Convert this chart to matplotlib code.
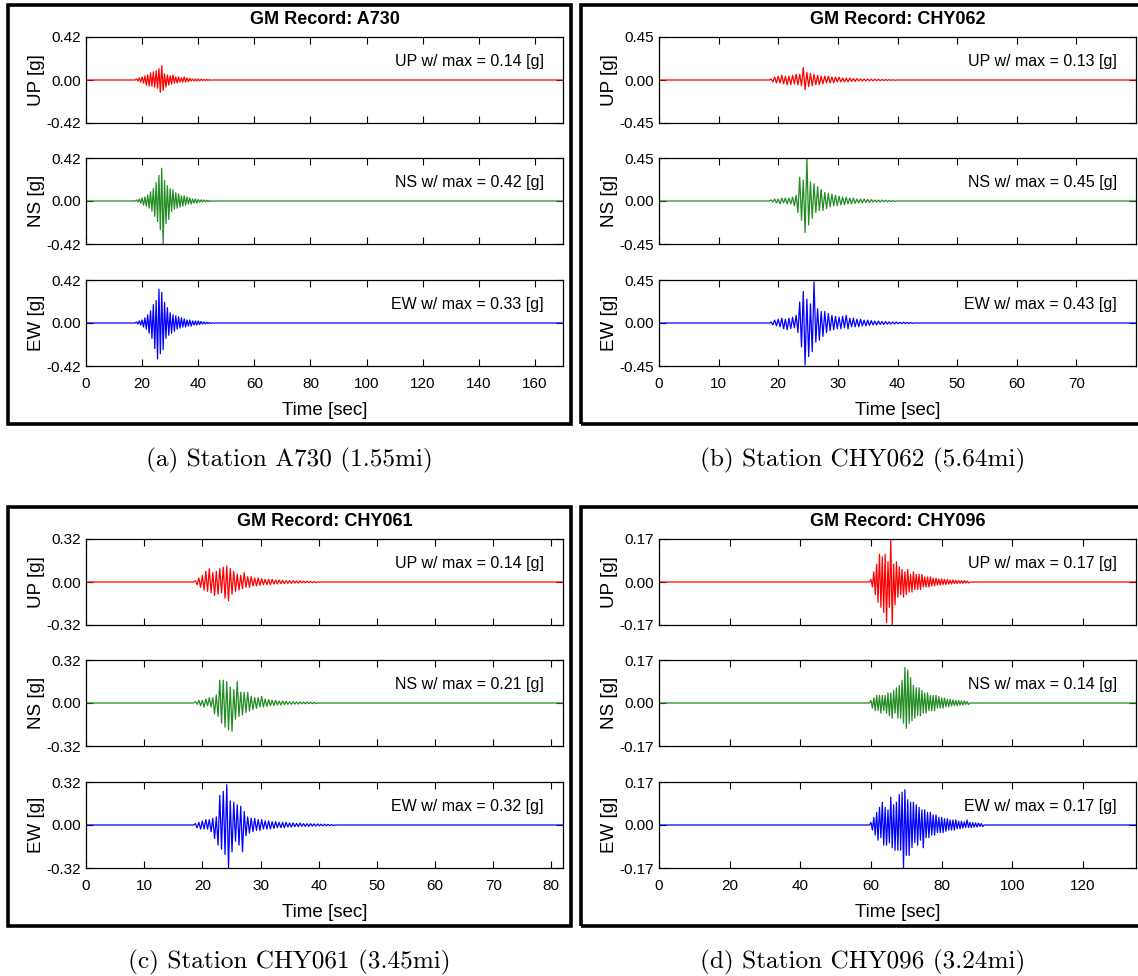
import numpy as np
import matplotlib
matplotlib.use("Agg")
import matplotlib.pyplot as plt
from matplotlib.patches import Rectangle

# ---- data ------------------------------------------------------------------
STATIONS = ["A730", "CHY062", "CHY061", "CHY096"]
CAPTIONS = ["(a) Station A730 (1.55mi)", "(b) Station CHY062 (5.64mi)",
            "(c) Station CHY061 (3.45mi)", "(d) Station CHY096 (3.24mi)"]
COMPONENTS = ["UP", "NS", "EW"]
COLORS = ["#ff0000", "#228b22", "#0000ff"]
X_MAX = [170, 80, 82, 135]
X_STEP = [20, 10, 10, 20]
Y_MAX = [0.42, 0.45, 0.32, 0.17]
PGA = [[0.14, 0.42, 0.33], [0.13, 0.45, 0.43], [0.14, 0.21, 0.32], [0.17, 0.14, 0.17]]
ONSET = [18.0, 18.8, 18.8, 60.0]   # first listed sample [sec]
SAMPLE = [0.5, 0.3, 0.3, 0.4]      # spacing of listed peaks [sec]

# successive acceleration peaks [g]
A730_UP = [0.01, -0.01, 0.02, -0.02, 0.03, -0.03, 0.04, -0.05, 0.05, -0.06, 0.07, -0.06,
           0.08, -0.07, 0.09, -0.08, 0.11, -0.12, 0.14, -0.10, 0.06, -0.07, 0.05, -0.05,
           0.04, -0.04, 0.05, -0.03, 0.03, -0.03, 0.03, -0.02, 0.02, -0.02, 0.03, -0.02,
           0.02, -0.015, 0.015, -0.01, 0.01, -0.01, 0.01, -0.01, 0.01, -0.008, 0.008, -0.006,
           0.006, -0.005, 0.005, -0.004, 0.004, -0.003]
A730_NS = [0.01, -0.01, 0.02, -0.02, 0.03, -0.04, 0.04, -0.05, 0.06, -0.07, 0.09, -0.10,
           0.12, -0.15, 0.18, -0.20, 0.25, -0.28, 0.32, -0.42, 0.20, -0.22, 0.15, -0.18,
           0.12, -0.10, 0.11, -0.08, 0.08, -0.07, 0.07, -0.06, 0.05, -0.05, 0.05, -0.04,
           0.04, -0.03, 0.03, -0.03, 0.02, -0.02, 0.02, -0.02, 0.015, -0.012, 0.012, -0.01,
           0.01, -0.008, 0.008, -0.006, 0.005, -0.004]
A730_EW = [0.01, -0.01, 0.02, -0.02, 0.03, -0.04, 0.05, -0.06, 0.08, -0.10, 0.12, -0.15,
           0.18, -0.25, 0.22, -0.35, 0.33, -0.30, 0.30, -0.26, 0.20, -0.15, 0.15, -0.12,
           0.10, -0.10, 0.08, -0.08, 0.07, -0.06, 0.06, -0.05, 0.05, -0.04, 0.04, -0.04,
           0.03, -0.03, 0.03, -0.03, 0.02, -0.02, 0.02, -0.02, 0.02, -0.015, 0.015, -0.01,
           0.01, -0.01, 0.008, -0.006, 0.005, -0.004]

CHY062_UP = [0.01, -0.02, 0.03, -0.03, 0.04, -0.03, 0.05, -0.04, 0.04, -0.05,
             0.04, -0.05, 0.05, -0.04, 0.06, -0.05, 0.06, -0.06, 0.13, -0.10,
             0.08, -0.07, 0.07, -0.06, 0.06, -0.05, 0.05, -0.05, 0.04, -0.04,
             0.04, -0.03, 0.04, -0.03, 0.03, -0.03, 0.03, -0.02, 0.03, -0.02,
             0.02, -0.02, 0.02, -0.02, 0.02, -0.015, 0.015, -0.015, 0.015, -0.01,
             0.01, -0.01, 0.01, -0.01, 0.01, -0.008, 0.008, -0.008, 0.008, -0.006,
             0.006, -0.006, 0.005, -0.005, 0.005, -0.004, 0.004, -0.004, 0.003, -0.003]
CHY062_NS = [0.01, -0.01, 0.02, -0.02, 0.02, -0.03, 0.03, -0.02, 0.03, -0.03,
             0.03, -0.03, 0.04, -0.05, 0.06, -0.12, 0.25, -0.20, 0.22, -0.33,
             0.45, -0.25, 0.20, -0.18, 0.18, -0.12, 0.15, -0.10, 0.12, -0.10,
             0.09, -0.08, 0.08, -0.06, 0.07, -0.05, 0.06, -0.05, 0.05, -0.04,
             0.04, -0.04, 0.04, -0.03, 0.03, -0.03, 0.03, -0.025, 0.02, -0.02,
             0.02, -0.02, 0.02, -0.015, 0.015, -0.015, 0.015, -0.01, 0.01, -0.01,
             0.01, -0.01, 0.01, -0.008, 0.008, -0.008, 0.006, -0.006, 0.006, -0.005]
CHY062_EW = [0.01, -0.02, 0.03, -0.03, 0.04, -0.04, 0.05, -0.06, 0.04, -0.07,
             0.05, -0.06, 0.06, -0.05, 0.08, -0.10, 0.22, -0.25, 0.33, -0.44,
             0.25, -0.35, 0.20, -0.30, 0.43, -0.20, 0.15, -0.18, 0.12, -0.14,
             0.12, -0.10, 0.10, -0.08, 0.08, -0.07, 0.07, -0.06, 0.06, -0.06,
             0.07, -0.05, 0.08, -0.06, 0.05, -0.04, 0.05, -0.04, 0.04, -0.04,
             0.04, -0.03, 0.03, -0.03, 0.03, -0.025, 0.025, -0.02, 0.02, -0.02,
             0.02, -0.015, 0.015, -0.015, 0.015, -0.012, 0.012, -0.01, 0.01, -0.01,
             0.01, -0.008, 0.008, -0.008, 0.008, -0.006, 0.006, -0.005, 0.005, -0.004]

CHY061_UP = [0.01, -0.02, 0.03, -0.04, 0.05, -0.06, 0.08, -0.07, 0.10, -0.08,
             0.07, -0.10, 0.08, -0.09, 0.10, -0.08, 0.11, -0.12, 0.12, -0.14,
             0.10, -0.09, 0.08, -0.07, 0.06, -0.06, 0.05, -0.05, 0.07, -0.04,
             0.04, -0.04, 0.04, -0.03, 0.03, -0.03, 0.03, -0.025, 0.025, -0.02,
             0.02, -0.02, 0.02, -0.02, 0.02, -0.015, 0.015, -0.015, 0.015, -0.012,
             0.012, -0.012, 0.01, -0.01, 0.01, -0.01, 0.01, -0.008, 0.008, -0.008,
             0.008, -0.006, 0.006, -0.006, 0.006, -0.005, 0.005, -0.005, 0.004, -0.004]
CHY061_NS = [0.01, -0.01, 0.02, -0.02, 0.02, -0.03, 0.03, -0.02, 0.04, -0.03,
             0.04, -0.08, 0.06, -0.10, 0.17, -0.15, 0.17, -0.18, 0.16, -0.20,
             0.12, -0.21, 0.10, -0.12, 0.16, -0.10, 0.08, -0.09, 0.08, -0.07,
             0.08, -0.06, 0.05, -0.05, 0.04, -0.04, 0.04, -0.03, 0.05, -0.03,
             0.03, -0.025, 0.025, -0.02, 0.02, -0.02, 0.02, -0.015, 0.015, -0.015,
             0.015, -0.012, 0.012, -0.01, 0.01, -0.01, 0.01, -0.008, 0.008, -0.008,
             0.008, -0.006, 0.006, -0.006, 0.006, -0.005, 0.005, -0.005, 0.004, -0.004]
CHY061_EW = [0.01, -0.02, 0.02, -0.03, 0.03, -0.03, 0.04, -0.03, 0.04, -0.05,
             0.05, -0.10, 0.06, -0.15, 0.22, -0.18, 0.25, -0.22, 0.30, -0.32,
             0.18, -0.20, 0.17, -0.12, 0.15, -0.15, 0.14, -0.20, 0.10, -0.08,
             0.06, -0.06, 0.05, -0.05, 0.05, -0.04, 0.04, -0.04, 0.04, -0.03,
             0.03, -0.03, 0.03, -0.03, 0.025, -0.025, 0.025, -0.02, 0.02, -0.02,
             0.02, -0.02, 0.02, -0.015, 0.015, -0.015, 0.015, -0.012, 0.012, -0.012,
             0.015, -0.01, 0.01, -0.01, 0.01, -0.01, 0.01, -0.008, 0.008, -0.008,
             0.008, -0.006, 0.006, -0.006, 0.006, -0.005, 0.005, -0.005, 0.004, -0.004]

CHY096_UP = [0.01, -0.02, 0.04, -0.05, 0.07, -0.08, 0.11, -0.10, 0.10, -0.12,
             0.11, -0.16, 0.08, -0.10, 0.17, -0.17, 0.07, -0.09, 0.08, -0.06,
             0.06, -0.05, 0.05, -0.06, 0.04, -0.05, 0.05, -0.04, 0.03, -0.04,
             0.04, -0.03, 0.03, -0.03, 0.03, -0.03, 0.03, -0.02, 0.02, -0.02,
             0.02, -0.02, 0.02, -0.015, 0.015, -0.015, 0.015, -0.012, 0.012, -0.012,
             0.012, -0.01, 0.01, -0.01, 0.01, -0.008, 0.008, -0.008, 0.008, -0.006,
             0.006, -0.006, 0.006, -0.005, 0.005, -0.005, 0.005, -0.004, 0.004, -0.004]
CHY096_NS = [0.01, -0.02, 0.02, -0.03, 0.03, -0.03, 0.03, -0.04, 0.03, -0.03,
             0.03, -0.04, 0.04, -0.05, 0.04, -0.06, 0.05, -0.04, 0.06, -0.06,
             0.07, -0.06, 0.09, -0.08, 0.14, -0.10, 0.13, -0.08, 0.10, -0.07,
             0.07, -0.06, 0.06, -0.05, 0.06, -0.05, 0.05, -0.04, 0.04, -0.04,
             0.04, -0.03, 0.03, -0.03, 0.03, -0.03, 0.03, -0.02, 0.025, -0.02,
             0.02, -0.02, 0.02, -0.015, 0.015, -0.015, 0.015, -0.012, 0.012, -0.01,
             0.01, -0.01, 0.01, -0.008, 0.008, -0.008, 0.008, -0.006, 0.006, -0.006]
CHY096_EW = [0.01, -0.02, 0.03, -0.04, 0.05, -0.06, 0.07, -0.05, 0.09, -0.08,
             0.07, -0.08, 0.06, -0.07, 0.11, -0.09, 0.08, -0.10, 0.09, -0.10,
             0.12, -0.10, 0.13, -0.17, 0.14, -0.12, 0.10, -0.12, 0.09, -0.09,
             0.09, -0.07, 0.08, -0.08, 0.07, -0.06, 0.06, -0.09, 0.06, -0.05,
             0.05, -0.05, 0.05, -0.04, 0.04, -0.04, 0.04, -0.03, 0.03, -0.03,
             0.03, -0.03, 0.025, -0.025, 0.025, -0.02, 0.02, -0.02, 0.02, -0.02,
             0.02, -0.015, 0.015, -0.015, 0.015, -0.012, 0.012, -0.01, 0.02, -0.01,
             0.01, -0.01, 0.01, -0.008, 0.008, -0.008, 0.008, -0.006, 0.006, -0.006]

RECORDS = [[A730_UP, A730_NS, A730_EW],
           [CHY062_UP, CHY062_NS, CHY062_EW],
           [CHY061_UP, CHY061_NS, CHY061_EW],
           [CHY096_UP, CHY096_NS, CHY096_EW]]

# ---- layout (pixels) ------------------------------------------------------
W, H = 1138, 976
PANEL_XY = [(8, 5), (581, 5), (8, 507), (581, 507)]
PANEL_W, PANEL_H = 563, 419
AX_LEFT, AX_W, AX_H = 78, 477, 86
AX_TOPS = [32, 153, 275]

plt.rcParams.update({
    "font.family": ["Liberation Sans", "DejaVu Sans"],
    "axes.unicode_minus": False,
    "axes.linewidth": 0.9,
    "xtick.direction": "in",
    "ytick.direction": "in",
    "xtick.top": True,
    "ytick.right": True,
    "xtick.major.size": 5,
    "ytick.major.size": 5,
})

fig = plt.figure(figsize=(W / 100, H / 100), dpi=100)


def fig_box(x, y, w, h):
    return [x / W, 1 - (y + h) / H, w / W, h / H]


for p, station in enumerate(STATIONS):
    px, py = PANEL_XY[p]
    fig.add_artist(Rectangle((px / W, 1 - (py + PANEL_H) / H), PANEL_W / W, PANEL_H / H,
                             transform=fig.transFigure, fill=False, lw=2.6, ec="black"))
    fig.text((px + AX_LEFT + AX_W / 2) / W, 1 - (py + 15) / H, f"GM Record: {station}",
             ha="center", va="center", fontsize=13, fontweight="bold")
    fig.text((px + PANEL_W / 2) / W, 1 - (py + PANEL_H + 36) / H, CAPTIONS[p],
             ha="center", va="center", fontsize=18.2, family="cmr10")

    ymax = Y_MAX[p]
    for k, comp in enumerate(COMPONENTS):
        ax = fig.add_axes(fig_box(px + AX_LEFT, py + AX_TOPS[k], AX_W, AX_H))
        vals = np.array(RECORDS[p][k])
        t = ONSET[p] + SAMPLE[p] * np.arange(len(vals))
        tt = np.concatenate([[0, ONSET[p] - SAMPLE[p]], t, [t[-1] + SAMPLE[p], X_MAX[p]]])
        yy = np.concatenate([[0, 0], vals, [0, 0]])
        ax.plot(tt, yy, color=COLORS[k], lw=0.9)
        ax.set_xlim(0, X_MAX[p])
        ax.set_ylim(-ymax, ymax)
        ax.set_yticks([-ymax, 0, ymax])
        ax.set_yticklabels([f"{v:.2f}" for v in (-ymax, 0, ymax)], fontsize=11)
        ax.set_xticks(np.arange(0, X_MAX[p], X_STEP[p]))
        ax.set_ylabel(f"{comp} [g]", fontsize=13.5)
        ax.yaxis.set_label_coords(-0.085, 0.5)
        ax.text(0.96, 0.72, f"{comp} w/ max = {PGA[p][k]:.2f} [g]", transform=ax.transAxes,
                ha="right", va="center", fontsize=11.5)
        if k < 2:
            ax.set_xticklabels([])
        else:
            ax.tick_params(axis="x", labelsize=11, pad=8)
            ax.set_xlabel("Time [sec]", fontsize=13.5, labelpad=8)

fig.savefig("out.png", dpi=100)
